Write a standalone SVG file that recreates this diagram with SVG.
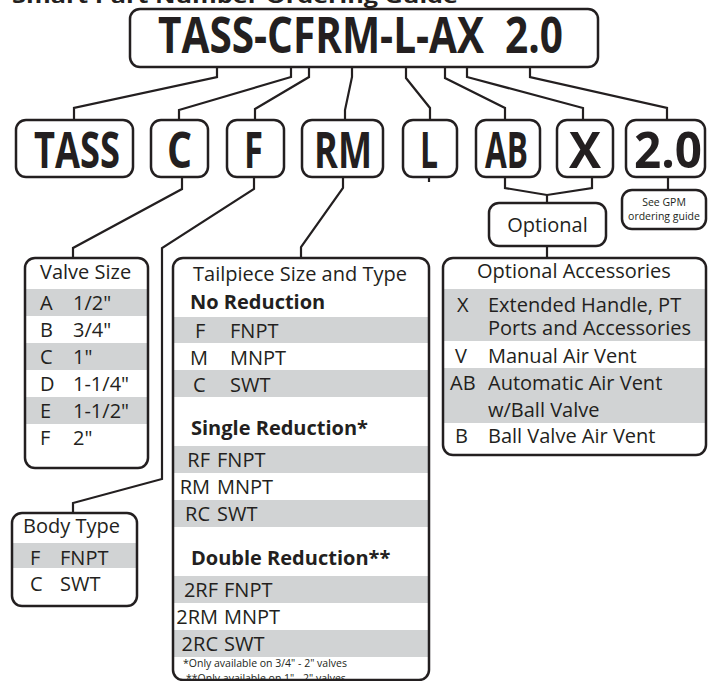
<svg xmlns="http://www.w3.org/2000/svg" width="708" height="681" viewBox="0 0 708 681">
<style>
.bg{fill:#fff}
.box{fill:none;stroke:#231f20;stroke-width:2.5}
.wb{fill:#fff;stroke:none}
.conn{fill:none;stroke:#231f20;stroke-width:2.2;stroke-linejoin:miter}
.band{fill:#d1d3d4}
.t{font-family:"Open Sans","Noto Sans",sans-serif;font-size:20px;fill:#231f20}
.b{font-weight:700}
.big{font-family:"Open Sans","Noto Sans",sans-serif;font-weight:700;font-size:51px;fill:#231f20}
.sm{font-family:"Open Sans","Noto Sans",sans-serif;font-size:10.5px;fill:#231f20}
.e{text-anchor:end}
</style>
<rect class="bg" x="0" y="0" width="708" height="681"/>
<text class="t b" x="12" y="3" font-size="24" textLength="446" lengthAdjust="spacingAndGlyphs">Smart Part Number Ordering Guide</text>

<g id="connectors">
<polyline class="conn" points="217,67 217,77 74,108 74,121"/>
<polyline class="conn" points="291,67 291,77 179,110 179,121"/>
<polyline class="conn" points="309,67 309,77 255,109 255,121"/>
<polyline class="conn" points="352,67 352,77 345,110 345,121"/>
<polyline class="conn" points="406,67 406,78 430,108 430,121"/>
<polyline class="conn" points="445,67 445,78 505,108 505,121"/>
<polyline class="conn" points="467,67 467,77 583,108 583,121"/>
<polyline class="conn" points="530,67 530,77 667,108 667,121"/>
<polyline class="conn" points="182,177 182,189 73,248 73,259"/>
<polyline class="conn" points="254,177 254,189 162,248 162,479 73,503 73,514"/>
<polyline class="conn" points="343,177 343,188 301,247 301,259"/>
<polyline class="conn" points="429,177 429,182"/>
<polyline class="conn" points="505,177 505,188 547,195 592,188 592,177"/>
<polyline class="conn" points="547,195 547,204"/>
<polyline class="conn" points="547,246 547,259"/>
<polyline class="conn" points="668,177 668,191"/>
</g>

<g id="main">
<rect class="box" x="130" y="9" width="468" height="58" rx="10"/>
<text class="big" x="158" y="53" font-size="42" textLength="405" lengthAdjust="spacingAndGlyphs">TASS-CFRM-L-AX&#160; 2.0</text>
</g>

<g id="n-tass"><rect class="box" x="16" y="120" width="117" height="57" rx="10"/><text class="big" x="34" y="168" textLength="86" lengthAdjust="spacingAndGlyphs">TASS</text></g>
<g id="n-c"><rect class="box" x="151" y="120" width="57" height="57" rx="10"/><text class="big" x="167" y="168" textLength="25" lengthAdjust="spacingAndGlyphs">C</text></g>
<g id="n-f"><rect class="box" x="227" y="120" width="57" height="57" rx="10"/><text class="big" x="244" y="168" textLength="19" lengthAdjust="spacingAndGlyphs">F</text></g>
<g id="n-rm"><rect class="box" x="302" y="120" width="81" height="57" rx="10"/><text class="big" x="314" y="168" textLength="58" lengthAdjust="spacingAndGlyphs">RM</text></g>
<g id="n-l"><rect class="box" x="403" y="120" width="54" height="57" rx="10"/><text class="big" x="420" y="168" textLength="18" lengthAdjust="spacingAndGlyphs">L</text></g>
<g id="n-ab"><rect class="box" x="476" y="120" width="64" height="57" rx="10"/><text class="big" x="485" y="168" textLength="43" lengthAdjust="spacingAndGlyphs">AB</text></g>
<g id="n-x"><rect class="box" x="557" y="120" width="56" height="57" rx="10"/><text class="big" x="569" y="168" textLength="32" lengthAdjust="spacingAndGlyphs">X</text></g>
<g id="n-20"><rect class="box" x="626" y="120" width="79" height="57" rx="10"/><text class="big" x="634" y="168" textLength="68" lengthAdjust="spacingAndGlyphs">2.0</text></g>

<g id="n-optional"><rect class="wb" x="489" y="203" width="117" height="43" rx="10"/><rect class="box" x="489" y="203" width="117" height="43" rx="10"/><text class="t" x="547.5" y="232" text-anchor="middle">Optional</text></g>
<g id="n-gpm"><rect class="box" x="622" y="190" width="84" height="39" rx="10"/><text class="sm" x="664" y="206" text-anchor="middle">See GPM</text><text class="sm" x="664" y="220" text-anchor="middle">ordering guide</text></g>

<g id="n-valve">
<rect class="band" x="26" y="289" width="121" height="27"/>
<rect class="band" x="26" y="343" width="121" height="27"/>
<rect class="band" x="26" y="397" width="121" height="27"/>
<rect class="box" x="25" y="258" width="123" height="210" rx="10"/>
<text class="t" x="40" y="279">Valve Size</text>
<text class="t" x="40" y="310">A</text><text class="t" x="73" y="310">1/2"</text>
<text class="t" x="40" y="337">B</text><text class="t" x="73" y="337">3/4"</text>
<text class="t" x="40" y="364">C</text><text class="t" x="73" y="364">1"</text>
<text class="t" x="40" y="391">D</text><text class="t" x="73" y="391">1-1/4"</text>
<text class="t" x="40" y="418">E</text><text class="t" x="73" y="418">1-1/2"</text>
<text class="t" x="40" y="445">F</text><text class="t" x="73" y="445">2"</text>
</g>

<g id="n-body">
<rect class="band" x="13" y="543" width="123" height="25"/>
<rect class="box" x="12" y="513" width="125" height="93" rx="10"/>
<text class="t" x="23" y="533">Body Type</text>
<text class="t" x="30" y="565">F</text><text class="t" x="60" y="565">FNPT</text>
<text class="t" x="30" y="591">C</text><text class="t" x="60" y="591">SWT</text>
</g>

<g id="n-tailpiece">
<rect class="band" x="174" y="317" width="254" height="26"/>
<rect class="band" x="174" y="370" width="254" height="27"/>
<rect class="band" x="174" y="446" width="254" height="27"/>
<rect class="band" x="174" y="500" width="254" height="27"/>
<rect class="band" x="174" y="576" width="254" height="27"/>
<rect class="band" x="174" y="630" width="254" height="27"/>
<rect class="box" x="173" y="258" width="256" height="422" rx="10"/>
<text class="t" x="193" y="281">Tailpiece Size and Type</text>
<text class="t b" x="190" y="309">No Reduction</text>
<text class="t" x="195" y="338">F</text><text class="t" x="230" y="338">FNPT</text>
<text class="t" x="190" y="365">M</text><text class="t" x="230" y="365">MNPT</text>
<text class="t" x="193" y="392">C</text><text class="t" x="230" y="392">SWT</text>
<text class="t b" x="191" y="435">Single Reduction*</text>
<text class="t e" x="210" y="467">RF</text><text class="t" x="217" y="467">FNPT</text>
<text class="t e" x="210" y="494">RM</text><text class="t" x="217" y="494">MNPT</text>
<text class="t e" x="210" y="521">RC</text><text class="t" x="217" y="521">SWT</text>
<text class="t b" x="191" y="565">Double Reduction**</text>
<text class="t e" x="218" y="597">2RF</text><text class="t" x="224" y="597">FNPT</text>
<text class="t e" x="218" y="624">2RM</text><text class="t" x="224" y="624">MNPT</text>
<text class="t e" x="218" y="651">2RC</text><text class="t" x="224" y="651">SWT</text>
<text class="sm" x="183" y="667" font-size="10">*Only available on 3/4" - 2" valves</text>
<text class="sm" x="186" y="682" font-size="10">**Only available on 1" - 2" valves</text>
</g>

<g id="n-accessories">
<rect class="band" x="444" y="289" width="261" height="52"/>
<rect class="band" x="444" y="368" width="261" height="55"/>
<rect class="box" x="443" y="258" width="263" height="197" rx="10"/>
<text class="t" x="477" y="278">Optional Accessories</text>
<text class="t" x="457" y="312">X</text><text class="t" x="488" y="312">Extended Handle, PT</text>
<text class="t" x="488" y="335">Ports and Accessories</text>
<text class="t" x="455" y="363">V</text><text class="t" x="488" y="363">Manual Air Vent</text>
<text class="t" x="450" y="390">AB</text><text class="t" x="488" y="390">Automatic Air Vent</text>
<text class="t" x="488" y="417">w/Ball Valve</text>
<text class="t" x="455" y="443">B</text><text class="t" x="488" y="443">Ball Valve Air Vent</text>
</g>
</svg>
